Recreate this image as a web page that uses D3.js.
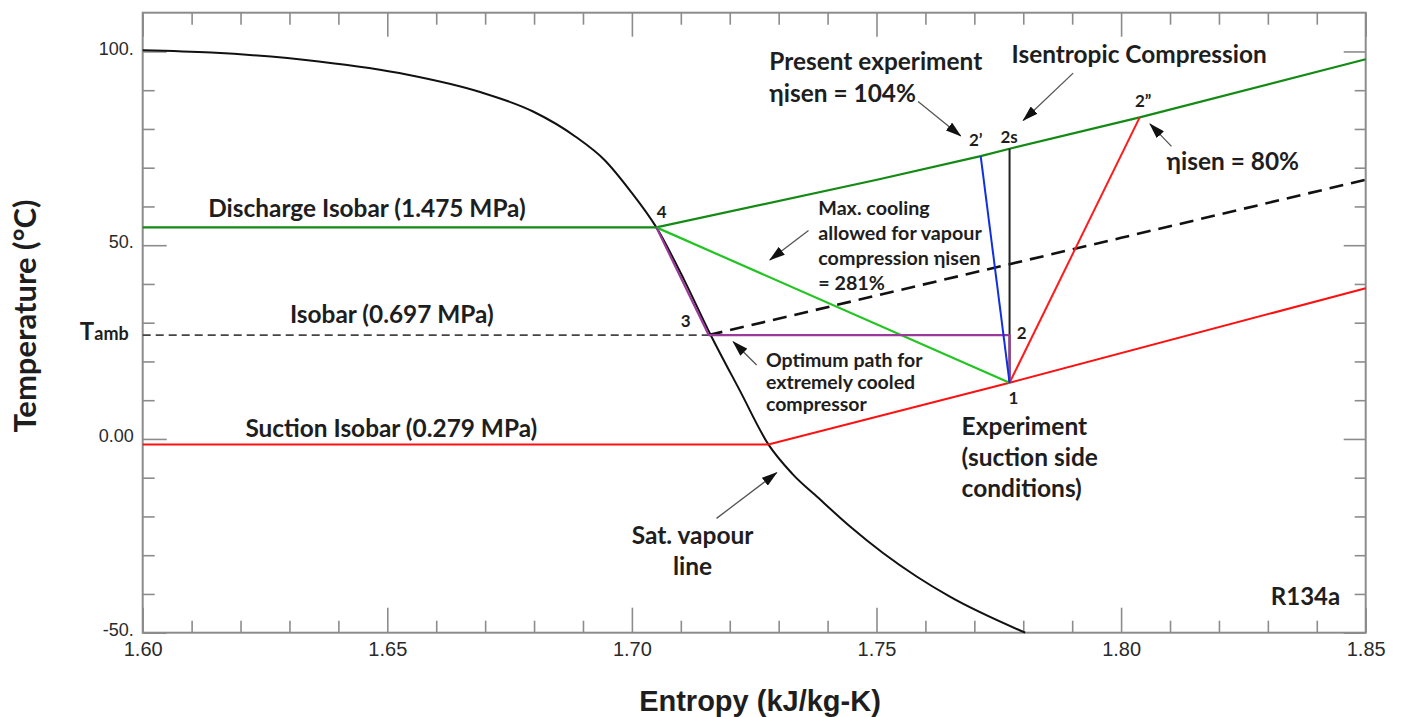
<!DOCTYPE html>
<html>
<head>
<meta charset="utf-8">
<script src="https://cdn.jsdelivr.net/npm/d3@7"></script>
<style>
  body { margin: 0; background: #fff; }
  svg { display: block; }
  .ann { font-family: Lato, "Open Sans", sans-serif; font-weight: 700; fill: #1e1e1e; }
  .tick text { font-family: "Liberation Sans", Arial, sans-serif; fill: #2a2a2a; }
</style>
</head>
<body>
<svg id="chart" width="1402" height="717"></svg>
<script>
// ---- R134a temperature–entropy diagram: data ----
// Saturated vapour line (s in kJ/kg-K, T in °C)
const satS = [1.6000, 1.6140, 1.6360, 1.6542, 1.6688, 1.6798, 1.6885, 1.6944, 1.6995, 1.7050,
              1.7107, 1.7160, 1.7221, 1.7279, 1.7328, 1.7381, 1.7446, 1.7514, 1.7582,
              1.7650, 1.7804];
const satT = [100.3, 99.7, 97.4, 94.0, 89.6, 84.5, 78.0, 72.0, 64.3, 54.6,
              41.0, 27.1, 12.4, -1.4, -9.0, -15.2, -22.6, -29.5, -35.5,
              -40.7, -50.0];

// Discharge isobar (1.475 MPa)
const dischargeS = [1.60, 1.7050, 1.7501, 1.7713, 1.7772, 1.8038, 1.85];
const dischargeT = [54.6, 54.6, 66.9, 73.0, 74.9, 83.0, 98.0];

// Intermediate isobar (0.697 MPa), superheated part
const midS = [1.7157, 1.75, 1.80, 1.85];
const midT = [26.8, 37.0, 51.9, 66.9];

// Suction isobar (0.279 MPa)
const suctionS = [1.60, 1.7279, 1.7772, 1.85];
const suctionT = [-1.4, -1.4, 14.5, 38.9];

// Ambient temperature
const Tamb = 26.8;

// State points
const stateNames = ["1", "2", "2s", "2’", "2”", "3", "4"];
const stateS = [1.7772, 1.7772, 1.7772, 1.7713, 1.8038, 1.7157, 1.7050];
const stateT = [14.5, 26.8, 74.9, 73.0, 83.0, 26.8, 54.6];

// Axis ticks
const xMajor = [1.60, 1.65, 1.70, 1.75, 1.80, 1.85];
const xMajorLabels = ["1.60", "1.65", "1.70", "1.75", "1.80", "1.85"];
const yMajor = [-50, 0, 50, 100];
const yMajorLabels = ["-50.", "0.00", "50.", "100."];

// ---- layout ----
const W = 1402, H = 717;
const margin = { left: 142.7, top: 12.7, right: 36.3, bottom: 84.3 };
const svg = d3.select("#chart");

const x = d3.scaleLinear().domain([1.60, 1.85]).range([margin.left, W - margin.right]);
const y = d3.scaleLinear().domain([-50, 110]).range([H - margin.bottom, margin.top]);

const st = {};
stateNames.forEach((n, i) => st[n] = [stateS[i], stateT[i]]);

const line = d3.line().x(d => x(d[0])).y(d => y(d[1]));
const zip = (a, b) => a.map((v, i) => [v, b[i]]);

// ---- axes (ticks point inward on all four sides) ----
const axisColor = "#8c8c8c";
const xMinor = d3.range(160, 186).map(v => v / 100).filter(v => Math.round(v * 100) % 5 !== 0);
const yMinor = d3.range(-50, 110, 10).filter(v => v % 50 !== 0);

function styleAxis(g) {
  g.select(".domain").remove();
  g.selectAll(".tick line").attr("stroke", axisColor).attr("stroke-width", 1.6);
}

svg.append("g").attr("transform", `translate(0,${y(-50)})`)
  .call(d3.axisBottom(x).tickValues(xMajor).tickSize(-25).tickPadding(9)
        .tickFormat((d, i) => xMajorLabels[i]))
  .call(styleAxis)
  .call(g => g.selectAll("text").attr("font-size", 20));
svg.append("g").attr("transform", `translate(0,${y(-50)})`)
  .call(d3.axisBottom(x).tickValues(xMinor).tickSize(-12).tickFormat(""))
  .call(styleAxis);
svg.append("g").attr("transform", `translate(0,${y(110)})`)
  .call(d3.axisTop(x).tickValues(xMajor).tickSize(-24).tickFormat(""))
  .call(styleAxis);
svg.append("g").attr("transform", `translate(0,${y(110)})`)
  .call(d3.axisTop(x).tickValues(xMinor).tickSize(-12).tickFormat(""))
  .call(styleAxis);

svg.append("g").attr("transform", `translate(${x(1.60)},0)`)
  .call(d3.axisLeft(y).tickValues(yMajor).tickSize(-24).tickPadding(9)
        .tickFormat((d, i) => yMajorLabels[i]))
  .call(styleAxis)
  .call(g => g.selectAll("text").attr("font-size", 18).attr("dy", "0.15em"));
svg.append("g").attr("transform", `translate(${x(1.60)},0)`)
  .call(d3.axisLeft(y).tickValues(yMinor).tickSize(-12).tickFormat(""))
  .call(styleAxis);
svg.append("g").attr("transform", `translate(${x(1.85)},0)`)
  .call(d3.axisRight(y).tickValues(yMajor).tickSize(-22).tickFormat(""))
  .call(styleAxis);
svg.append("g").attr("transform", `translate(${x(1.85)},0)`)
  .call(d3.axisRight(y).tickValues(yMinor).tickSize(-11).tickFormat(""))
  .call(styleAxis);

// plot frame
svg.append("rect")
  .attr("x", x(1.60)).attr("y", y(110))
  .attr("width", x(1.85) - x(1.60)).attr("height", y(-50) - y(110))
  .attr("fill", "none").attr("stroke", axisColor).attr("stroke-width", 2);

// Tamb marker on the temperature axis
const tamb = svg.append("text").attr("class", "ann")
  .attr("x", x(1.60) - 14).attr("y", y(Tamb)).attr("dy", "0.32em")
  .attr("text-anchor", "end");
tamb.append("tspan").attr("font-size", 24).text("T");
tamb.append("tspan").attr("font-size", 18).text("amb");

// axis titles
svg.append("text").attr("class", "ann")
  .attr("transform", `translate(25,${316}) rotate(-90)`)
  .attr("text-anchor", "middle").attr("dy", "0.35em")
  .attr("font-size", 31).text("Temperature (°C)");
svg.append("text")
  .attr("x", 760).attr("y", 701).attr("dy", "0.35em")
  .attr("text-anchor", "middle")
  .attr("font-family", "'Liberation Sans', Arial, sans-serif")
  .attr("font-weight", 700).attr("font-size", 29).attr("fill", "#1e1e1e")
  .text("Entropy (kJ/kg-K)");

// ---- curves ----
const plot = svg.append("g");

// saturated vapour line
plot.append("path")
  .datum(zip(satS, satT))
  .attr("d", d3.line().x(d => x(d[0])).y(d => y(d[1])).curve(d3.curveMonotoneX))
  .attr("fill", "none").attr("stroke", "#111").attr("stroke-width", 2);

// ambient isobar left of point 3 (fine dashes)
plot.append("path")
  .datum([[1.60, Tamb], st["3"]])
  .attr("d", line)
  .attr("fill", "none").attr("stroke", "#444").attr("stroke-width", 1.8)
  .attr("stroke-dasharray", "8,5");

// 0.697 MPa isobar, superheated part
plot.append("path")
  .datum(zip(midS, midT))
  .attr("d", line)
  .attr("fill", "none").attr("stroke", "#111").attr("stroke-width", 2.6)
  .attr("stroke-dasharray", "14,8");

// discharge isobar
plot.append("path")
  .datum(zip(dischargeS, dischargeT))
  .attr("d", line)
  .attr("fill", "none").attr("stroke", "#138a13").attr("stroke-width", 2.2);

// suction isobar
plot.append("path")
  .datum(zip(suctionS, suctionT))
  .attr("d", line)
  .attr("fill", "none").attr("stroke", "#ff1010").attr("stroke-width", 2);

// compression paths from state 1
const paths = [
  { pts: ["1", "2s"], color: "#222", w: 2 },
  { pts: ["1", "2”"], color: "#ff1a1a", w: 2 },
  { pts: ["4", "1"], color: "#22c422", w: 2.2 },
  { pts: ["4", "3", "2", "1"], color: "#9a3a9a", w: 2.2 },
  { pts: ["1", "2’"], color: "#1030e0", w: 2 }
];
paths.forEach(p => {
  plot.append("path")
    .datum(p.pts.map(n => st[n]))
    .attr("d", line)
    .attr("fill", "none").attr("stroke", p.color).attr("stroke-width", p.w)
    .attr("stroke-linejoin", "round");
});

// ---- state point labels ----
const stateLabelPos = {
  "1": [1.7780, 10.5], "2": [1.7797, 27.3], "2s": [1.7771, 77.9],
  "2’": [1.7703, 77.2], "2”": [1.8045, 87.3], "3": [1.7110, 30.3], "4": [1.7061, 58.5]
};
Object.entries(stateLabelPos).forEach(([name, p]) => {
  svg.append("text").attr("class", "ann")
    .attr("x", x(p[0])).attr("y", y(p[1])).attr("dy", "0.35em")
    .attr("text-anchor", "middle").attr("font-size", 17)
    .text(name);
});

// ---- annotations ----
function multiline(lines, s, T, size, lineH, anchor) {
  const t = svg.append("text").attr("class", "ann")
    .attr("x", x(s)).attr("y", y(T)).attr("font-size", size)
    .attr("text-anchor", anchor || "start");
  lines.forEach((ln, i) => {
    t.append("tspan").attr("x", x(s))
      .attr("dy", i === 0 ? "0.35em" : lineH + "px").text(ln);
  });
}
multiline(["Discharge Isobar (1.475 MPa)"], 1.6134, 59.55, 24.4);
multiline(["Isobar (0.697 MPa)"], 1.6301, 32.0, 24.4);
multiline(["Suction Isobar (0.279 MPa)"], 1.6210, 2.76, 24.4);
multiline(["Present experiment", "ηisen = 104%"], 1.7281, 97.4, 24.4, 31.6);
multiline(["Isentropic Compression"], 1.7776, 99.1, 24.4);
multiline(["ηisen = 80%"], 1.8093, 71.6, 24.4);
multiline(["Max. cooling", "allowed for vapour", "compression ηisen", "= 281%"], 1.7381, 59.55, 19.7, 25);
multiline(["Optimum path for", "extremely cooled", "compressor"], 1.7274, 20.4, 19.5, 22);
multiline(["Experiment", "(suction side", "conditions)"], 1.7674, 3.2, 24.5, 31);
multiline(["Sat. vapour", "line"], 1.7124, -25.0, 24.5, 30.7, "middle");
multiline(["R134a"], 1.8306, -40.8, 24);

// ---- pointer arrows ----
svg.append("defs").append("marker")
  .attr("id", "head").attr("markerUnits", "userSpaceOnUse")
  .attr("markerWidth", 16).attr("markerHeight", 10)
  .attr("refX", 15).attr("refY", 5).attr("orient", "auto")
  .append("path").attr("d", "M0,0 L16,5 L0,10 Z").attr("fill", "#111");

const arrows = [
  [[1.7585, 87.07], [1.7672, 78.2]],
  [[1.7902, 94.4], [1.7800, 82.2]],
  [[1.8103, 75.5], [1.8059, 81.3]],
  [[1.7361, 53.8], [1.7282, 46.2]],
  [[1.7255, 19.1], [1.7207, 25.1]],
  [[1.7173, -20.5], [1.7296, -8.7]]
];
arrows.forEach(a => {
  svg.append("path")
    .datum(a).attr("d", line)
    .attr("stroke", "#555").attr("stroke-width", 1.3).attr("fill", "none")
    .attr("marker-end", "url(#head)");
});
</script>
</body>
</html>
